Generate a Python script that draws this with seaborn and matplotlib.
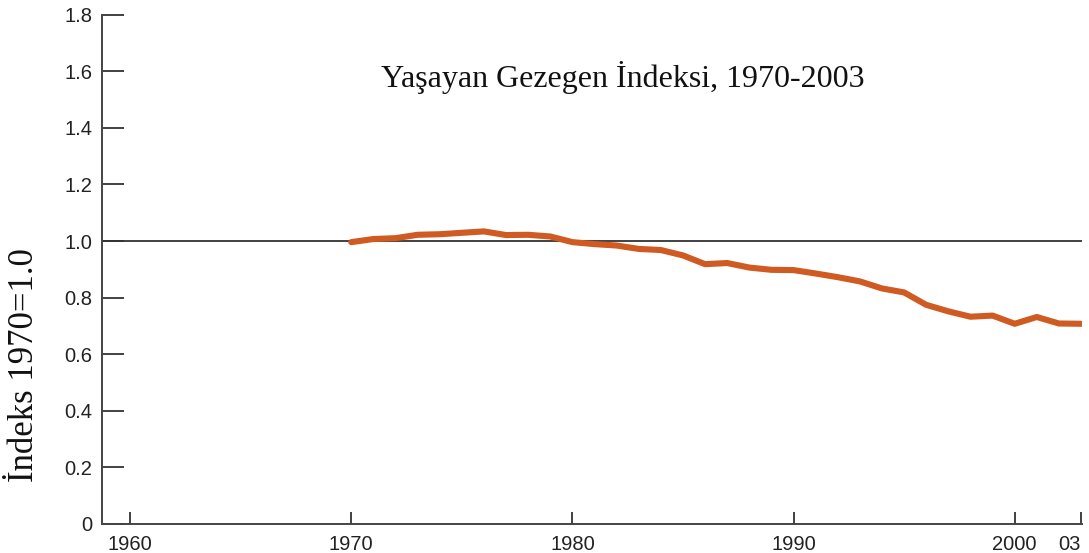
import matplotlib
matplotlib.use("Agg")
import matplotlib.pyplot as plt
import pandas as pd
import seaborn as sns

# Living Planet Index, 1970-2003
years = list(range(1970, 2004))
index_values = [0.996, 1.007, 1.010, 1.022, 1.024, 1.029, 1.034, 1.021, 1.022, 1.016,
                0.996, 0.989, 0.984, 0.972, 0.968, 0.949, 0.918, 0.922, 0.906, 0.898,
                0.897, 0.885, 0.872, 0.857, 0.832, 0.818, 0.774, 0.751, 0.732, 0.736,
                0.707, 0.731, 0.708, 0.707]

x_ticks = [1960, 1970, 1980, 1990, 2000, 2003]
x_tick_labels = ["1960", "1970", "1980", "1990", "2000", "03"]
y_ticks = [0, 0.2, 0.4, 0.6, 0.8, 1.0, 1.2, 1.4, 1.6, 1.8]
y_tick_labels = ["0", "0.2", "0.4", "0.6", "0.8", "1.0", "1.2", "1.4", "1.6", "1.8"]

title_text = "Yaşayan Gezegen İndeksi, 1970-2003"
ylabel_text = "İndeks 1970=1.0"

df = pd.DataFrame({"year": years, "index": index_values})

sns.set_style("white")
plt.rcParams["font.family"] = ["Liberation Sans", "DejaVu Sans"]

fig = plt.figure(figsize=(10.89, 5.53), dpi=100)
ax = fig.add_axes([0.0937, 0.0533, 0.9, 0.9196])

# reference line at 1.0
ax.axhline(1.0, color="#333333", linewidth=1.3, zorder=1)

sns.lineplot(data=df, x="year", y="index", ax=ax, color="#cf5a22",
             linewidth=4.4, zorder=3, legend=False)

ax.set_xlim(1958.73, 2003.05)
ax.set_ylim(0, 1.8)
ax.set_xticks(x_ticks)
ax.set_xticklabels(x_tick_labels)
ax.set_yticks(y_ticks)
ax.set_yticklabels(y_tick_labels)
ax.set_xlabel("")
ax.set_ylabel("")

ax.tick_params(axis="x", bottom=True, direction="in", length=9, width=1.3,
               color="#333333", pad=8, labelsize=14.5, labelcolor="#222222")
ax.tick_params(axis="y", left=True, direction="in", length=16, width=1.3,
               color="#333333", pad=7, labelsize=14.5, labelcolor="#222222")
# the "03" label sits to the left of its tick
ax.get_xticklabels()[-1].set_horizontalalignment("right")

for side in ["top", "right"]:
    ax.spines[side].set_visible(False)
for side in ["left", "bottom"]:
    ax.spines[side].set_color("#444444")
    ax.spines[side].set_linewidth(1.4)

fig.text(623 / 1089, 1 - 78 / 553, title_text, ha="center", va="center",
         fontsize=23, family=["Liberation Serif", "DejaVu Serif"], color="#111111")
fig.text(25 / 1089, 1 - 365 / 553, ylabel_text, ha="center", va="center",
         rotation=90, fontsize=25, family=["Liberation Serif", "DejaVu Serif"],
         color="#111111")

fig.savefig("out.png", dpi=100)
